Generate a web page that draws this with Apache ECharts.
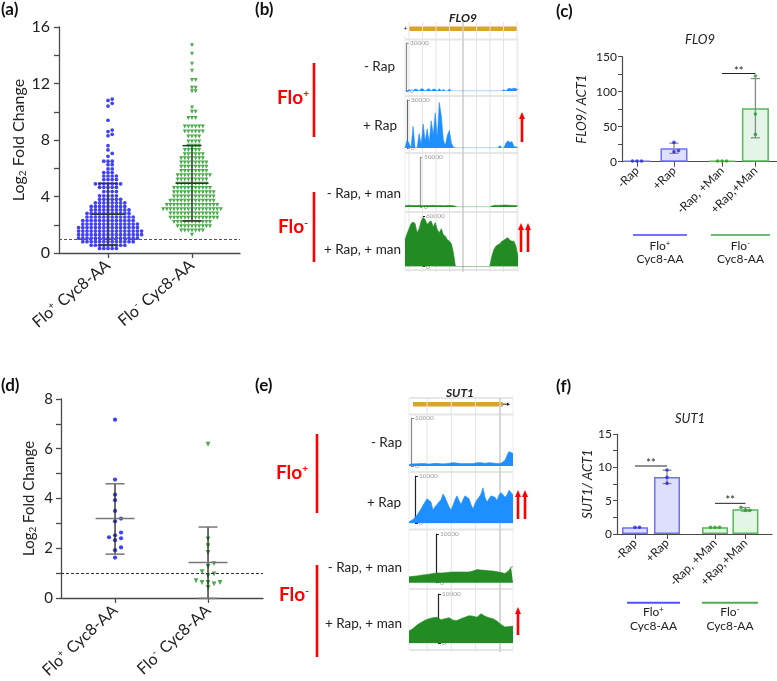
<!DOCTYPE html>
<html><head><meta charset="utf-8">
<script src="https://cdn.jsdelivr.net/npm/echarts@6.0.0/dist/echarts.min.js"></script>
<style>html,body{margin:0;padding:0;background:#fff}#c{width:777px;height:681px}</style>
</head><body><div id="c"></div>
<script>
// ================= DATA =================
const swarmGroups = ['Flo{sup|+} Cyc8-AA', 'Flo{sup|-} Cyc8-AA'];

// (a) genome-wide log2 fold change
const aFloPlus = [10.9,10.8,10.6,10.4,9.4,8.7,8.6,8.4,8.3,7.6,7.3,7.05,6.85,
 6.5,6.5,6.5,6.25,6.25,5.95,5.95,5.7,5.7,5.7,5.45,5.45,5.45,5.45,5.2,5.2,5.2,5.2,
 4.9,4.9,4.9,4.9,4.9,4.9,4.9,
 4.65,4.65,4.65,4.65,4.65,
 4.35,4.35,4.35,4.35,
 4.05,4.05,4.05,4.05,4.05,
 3.8,3.8,3.8,3.8,3.8,3.8,
 3.55,3.55,3.55,3.55,3.55,3.55,3.55,3.55,
 3.3,3.3,3.3,3.3,3.3,3.3,3.3,3.3,3.3,
 3.05,3.05,3.05,3.05,3.05,3.05,3.05,3.05,3.05,3.05,
 2.8,2.8,2.8,2.8,2.8,2.8,2.8,2.8,2.8,2.8,2.8,
 2.55,2.55,2.55,2.55,2.55,2.55,2.55,2.55,2.55,2.55,2.55,2.55,
 2.3,2.3,2.3,2.3,2.3,2.3,2.3,2.3,2.3,2.3,2.3,2.3,2.3,
 2.05,2.05,2.05,2.05,2.05,2.05,2.05,2.05,2.05,2.05,2.05,2.05,2.05,2.05,
 1.8,1.8,1.8,1.8,1.8,1.8,1.8,1.8,1.8,1.8,1.8,1.8,1.8,1.8,1.8,
 1.55,1.55,1.55,1.55,1.55,1.55,1.55,1.55,1.55,1.55,1.55,1.55,1.55,1.55,1.55,1.55,
 1.3,1.3,1.3,1.3,1.3,1.3,1.3,1.3,1.3,1.3,1.3,1.3,1.3,1.3,1.3,1.3,
 1.05,1.05,1.05,1.05,1.05,1.05,1.05,1.05,1.05,1.05,1.05,1.05,1.05,1.05,1.05,
 0.8,0.8,0.8,0.8,0.8,0.8,0.8,0.8,0.8,0.8,0.8,0.8,0.8,
 0.55,0.55,0.55,0.55,0.55,0.55,0.55,0.55,0.55,
 0.32,0.32,0.32,0.32,0.32];
const aFloMinus = [14.7,14.1,13.4,12.9,12.25,12.25,11.7,11.7,11.45,11.45,10.3,10.0,10.0,9.55,9.55,9.55,
 8.95,8.95,8.95,8.95,8.95,8.95,
 8.6,8.6,8.6,8.6,8.6,8.6,
 8.25,8.25,8.25,8.25,
 7.9,7.9,7.9,7.9,
 7.6,7.6,7.6,7.6,
 7.3,7.3,7.3,7.3,7.3,
 7.0,7.0,7.0,7.0,7.0,7.0,
 6.7,6.7,6.7,6.7,6.7,6.7,6.7,
 6.4,6.4,6.4,6.4,6.4,6.4,6.4,6.4,
 6.1,6.1,6.1,6.1,6.1,6.1,6.1,6.1,
 5.8,5.8,5.8,5.8,5.8,5.8,5.8,5.8,
 5.5,5.5,5.5,5.5,5.5,5.5,5.5,5.5,5.5,5.5,
 5.2,5.2,5.2,5.2,5.2,5.2,5.2,5.2,5.2,
 4.9,4.9,4.9,4.9,4.9,4.9,4.9,4.9,4.9,
 4.6,4.6,4.6,4.6,4.6,4.6,4.6,4.6,4.6,4.6,4.6,
 4.3,4.3,4.3,4.3,4.3,4.3,4.3,4.3,4.3,4.3,4.3,4.3,
 4.0,4.0,4.0,4.0,4.0,4.0,4.0,4.0,4.0,4.0,4.0,4.0,
 3.7,3.7,3.7,3.7,3.7,3.7,3.7,3.7,3.7,3.7,3.7,3.7,3.7,
 3.4,3.4,3.4,3.4,3.4,3.4,3.4,3.4,3.4,3.4,3.4,3.4,3.4,3.4,3.4,
 3.1,3.1,3.1,3.1,3.1,3.1,3.1,3.1,3.1,3.1,3.1,3.1,3.1,3.1,3.1,3.1,3.1,
 2.8,2.8,2.8,2.8,2.8,2.8,2.8,2.8,2.8,2.8,2.8,2.8,2.8,2.8,
 2.5,2.5,2.5,2.5,2.5,2.5,2.5,2.5,2.5,2.5,2.5,2.5,2.5,2.5,
 2.2,2.2,2.2,2.2,2.2,2.2,2.2,2.2,2.2,2.2,2.2,
 1.9,1.9,1.9,1.9,1.9,1.9,1.9,1.9,1.9,1.9,
 1.6,1.6,1.6,1.6,1.6,1.6,1.6,
 1.3];
const aMean = [2.75, 4.93];
const aSdLow = [0.57, 2.27];
const aSdHigh = [4.93, 7.6];

// (d) selected genes
const dFloPlus = [7.17,4.76,4.15,3.93,3.5,3.19,3.08,2.63,2.52,2.44,2.4,2.32,2.03,1.92,1.62];
const dFloMinus = [6.18,2.37,2.1,1.83,1.38,1.27,1.06,0.97,0.89,0.69,0.62,0.62,0.62,0.56,0.42];
const dMean = [3.19, 1.42];
const dSdLow = [1.76, -0.02];
const dSdHigh = [4.59, 2.85];
const thresholdLine = 1;

// (c),(f) qPCR
const qpcrLabels = ['-Rap', '+Rap', '-Rap, +Man', '+Rap,+Man'];
const flo9Reps = [[1.0,1.0,1.0],[27.6,15.7,14.3],[1.0,1.0,1.0],[122.4,68.0,39.0]];
const sut1Reps = [[1.0,1.0],[9.6,7.6,8.5],[1.0,1.0,1.0],[3.55,4.0,3.55]];
const flo9Sig = [[2, 3, 126]];           // [fromIdx, toIdx, y]
const sut1Sig = [[0, 1, 10.2], [2, 3, 4.6]];

// (b) FLO9 coverage tracks
const flo9Scales = [30000, 30000, 50000, 60000];
const flo9NoRap = [0,0,1000,0,0,1200,1000,0,1400,1200,0,1000,1400,0,1200,1000,0,1400,0,1000,0,0,1200,0,0,
 0,0,0,0,0,0,0,0,0,0,0,0,0,0,0,0,0,0,0,0,0,0,0,0,
 800,0,1400,1600,1200,1800,1400,1000];
const flo9Rap = [0,5000,3000,0,13500,0,0,9000,2000,15000,4000,12000,3000,17000,8000,22000,6000,28500,20000,5000,1500,8000,11000,3000,500,
 0,0,0,0,0,0,0,0,0,0,0,0,0,0,0,0,0,0,0,0,0,0,
 1500,0,0,3000,4500,3500,4000,900,600,600];
const flo9NoRapMan = [1200,1500,1800,1500,1600,1400,1500,1700,1500,1300,1500,1600,1400,1500,1700,1500,1400,1600,1500,1300,1500,1600,1400,1500,1200,800,
 0,0,0,0,0,0,0,0,0,0,0,0,0,0,0,0,0,
 900,1500,1700,1600,1800,1700,1900,2000,1800,1700,1600,1500,1400,1200];
const flo9RapMan = [31800,39000,45000,51000,52800,51000,40200,45000,54000,58200,55800,49800,52800,54000,46800,52200,43800,40200,45000,37800,36000,31800,30000,27000,16200,
 0,0,0,0,0,0,0,0,0,0,0,0,0,0,0,0,0,0,
 12000,19800,24000,25800,27000,30000,31200,33000,34200,31200,30000,30000,24000,12000];

// (e) SUT1 coverage tracks
const sut1Scales = [10000, 10000, 10000, 10000];
const sut1NoRap = [300,400,450,500,450,400,500,550,500,450,400,450,500,600,550,500,450,400,450,500,
 550,600,700,650,600,550,500,450,500,550,500,450,500,600,700,750,700,600,550,600,
 700,650,600,550,500,500,550,700,1200,2200,3000,2900,2600];
const sut1Rap = [300,500,800,1000,1700,2400,3000,3800,4200,5200,5600,4500,2800,3500,4000,4500,5000,6200,5500,4500,
 3500,2800,3800,5000,5800,4800,4000,5000,5800,6000,5200,4000,3000,4200,5000,5500,6200,7500,5500,4500,
 5200,5800,6200,5500,4800,6000,6500,6200,5500,6000,7000,6500,6000];
const sut1NoRapMan = [1200,1250,1300,1350,1400,1500,1550,1600,1650,1700,1750,1800,1900,2000,2000,2050,2000,2100,2050,2100,
 2150,2100,2200,2150,2200,2100,2200,2150,2200,2250,2200,2300,2400,2600,2700,2650,2600,2500,2550,2500,
 2450,2500,2400,2300,2250,2200,2100,2000,1900,1800,2500,3200,3300];
const sut1RapMan = [2500,3000,3700,4200,4700,5000,5200,5300,4800,5000,5200,4700,4600,5000,5300,5600,5500,5300,6000,5500,5200,5000,4500,3800,3300,3400,3500];

const trackLabels = ['- Rap', '+ Rap', '- Rap, + man', '+ Rap, + man'];

// ================= HELPERS =================
const FONT = 'Lato, "Open Sans", sans-serif';
const BLUE = '#1010f5', GREEN = '#1f951f';
const TRACK_BLUE = '#1e8fff', TRACK_GREEN = '#238b23';

function swarm(values, center, pxX, pxY, step, dyMin) {
  const order = values.map((v, i) => i).sort((p, q) => values[p] - values[q]);
  const placed = [], out = [];
  order.forEach(i => {
    const v = values[i], y = v * pxY;
    for (let k = 0; k < 400; k++) {
      const slot = k === 0 ? 0 : (k % 2 ? (k + 1) / 2 : -k / 2);
      if (placed.every(p => p.slot !== slot || Math.abs(p.y - y) >= dyMin)) {
        placed.push({slot, y}); out.push([center + slot * step / pxX, v]); break;
      }
    }
  });
  return out;
}
const mean = a => a.reduce((s, v) => s + v, 0) / a.length;
const sd = a => { const m = mean(a); return a.length < 2 ? 0 : Math.sqrt(a.reduce((s, v) => s + (v - m) * (v - m), 0) / (a.length - 1)); };

function meanSdSeries(ai, data, meanW, capW, vColor, hColor) {
  return {type: 'custom', xAxisIndex: ai, yAxisIndex: ai, z: 6, silent: true, data,
    renderItem(params, api) {
      const x = api.value(0), m = api.value(1), lo = api.value(2), hi = api.value(3);
      const pm = api.coord([x, m]), pl = api.coord([x, lo]), ph = api.coord([x, hi]);
      const sv = {stroke: vColor, lineWidth: 1.3}, sh = {stroke: hColor, lineWidth: 1.5};
      return {type: 'group', children: [
        {type: 'line', shape: {x1: pm[0], y1: pl[1], x2: pm[0], y2: ph[1]}, style: sv},
        {type: 'line', shape: {x1: pm[0] - meanW / 2, y1: pm[1], x2: pm[0] + meanW / 2, y2: pm[1]}, style: sh},
        {type: 'line', shape: {x1: pm[0] - capW / 2, y1: pl[1], x2: pm[0] + capW / 2, y2: pl[1]}, style: sh},
        {type: 'line', shape: {x1: pm[0] - capW / 2, y1: ph[1], x2: pm[0] + capW / 2, y2: ph[1]}, style: sh}
      ]};
    }};
}
function errSeries(ai, data, capW) {
  return {type: 'custom', xAxisIndex: ai, yAxisIndex: ai, z: 4, silent: true, data,
    renderItem(params, api) {
      const x = api.value(0), lo = api.value(1), hi = api.value(2);
      if (hi - lo <= 0) return null;
      const pl = api.coord([x, lo]), ph = api.coord([x, hi]);
      const s = {stroke: '#8a8a8a', lineWidth: 1.3};
      return {type: 'group', children: [
        {type: 'line', shape: {x1: pl[0], y1: pl[1], x2: ph[0], y2: ph[1]}, style: s},
        {type: 'line', shape: {x1: pl[0] - capW / 2, y1: pl[1], x2: pl[0] + capW / 2, y2: pl[1]}, style: s},
        {type: 'line', shape: {x1: ph[0] - capW / 2, y1: ph[1], x2: ph[0] + capW / 2, y2: ph[1]}, style: s}
      ]};
    }};
}
function sigSeries(ai, data) {
  return {type: 'custom', xAxisIndex: ai, yAxisIndex: ai, z: 6, silent: true, data,
    renderItem(params, api) {
      const p1 = api.coord([api.value(0), api.value(2)]), p2 = api.coord([api.value(1), api.value(2)]);
      return {type: 'group', children: [
        {type: 'line', shape: {x1: p1[0], y1: p1[1], x2: p2[0], y2: p2[1]}, style: {stroke: '#222', lineWidth: 1}},
        {type: 'text', x: (p1[0] + p2[0]) / 2, y: p1[1] + 3, style: {text: '**', align: 'center', verticalAlign: 'bottom', font: '11px ' + FONT, fill: '#222'}}
      ]};
    }};
}
function gridLineSeries(ai, fracs, strongIdx) {
  return {type: 'custom', xAxisIndex: ai, yAxisIndex: ai, z: 1, silent: true,
    data: fracs.map((f, k) => [f, k]),
    renderItem(params, api) {
      const cs = params.coordSys;
      const x = api.coord([api.value(0), 0])[0];
      const strong = api.value(1) === strongIdx;
      return {type: 'line', shape: {x1: x, y1: cs.y, x2: x, y2: cs.y + cs.height},
        style: {stroke: strong ? '#cfcfcf' : '#e4e4e4', lineWidth: strong ? 1.6 : 1}};
    }};
}
function trackSeries(ai, arr, color) {
  return {type: 'line', xAxisIndex: ai, yAxisIndex: ai, z: 3, silent: true,
    data: arr.map((v, i) => [i / (arr.length - 1), v]), symbol: 'none',
    lineStyle: {width: 0.6, color}, itemStyle: {color}, areaStyle: {color, opacity: 1}};
}

// ================= LAYOUT =================
const grids = [], xAxes = [], yAxes = [], series = [];
const axisCol = '#4a4a4a';
function addGrid(g) { grids.push(g); return grids.length - 1; }

const supRich = {sup: {fontSize: 10, fontFamily: FONT, color: '#222', verticalAlign: 'top', padding: [0, 1, 8, 0]}};
const subRich = {sub: {fontSize: 10, fontFamily: FONT, color: '#222', padding: [7, 0, 0, 0]}};
function scatterAxes(gi, xr, yr, yInt, labSize, yMargin, nameSize, nameGap, rot) {
  xAxes.push({gridIndex: gi, type: 'value', min: xr[0], max: xr[1],
    axisLine: {lineStyle: {color: axisCol, width: 1.3}},
    axisTick: {show: true, customValues: [1, 2], length: 5, lineStyle: {color: axisCol, width: 1.3}},
    axisLabel: {customValues: [1, 2], rotate: rot, margin: 10, fontSize: 16, fontFamily: FONT, color: '#222',
      formatter: v => swarmGroups[Math.round(v) - 1], rich: supRich},
    splitLine: {show: false}});
  yAxes.push({gridIndex: gi, type: 'value', min: yr[0], max: yr[1], interval: yInt,
    axisLine: {show: true, lineStyle: {color: axisCol, width: 1.3}},
    axisTick: {show: true, length: 5, lineStyle: {color: axisCol, width: 1.3}},
    minorTick: {show: true, splitNumber: 2, length: 5, lineStyle: {color: axisCol, width: 1.3}},
    axisLabel: {fontSize: labSize, fontFamily: FONT, color: '#222', margin: yMargin},
    splitLine: {show: false},
    name: 'Log{sub|2} Fold Change', nameLocation: 'middle', nameGap, nameRotate: 90,
    nameTextStyle: {fontSize: nameSize, fontFamily: FONT, color: '#222', rich: subRich}});
}

// ---- (a)
const aGrid = {left: 59, top: 27, width: 181, height: 226};
const aX = [0.4167, 2.5714], aY = [0, 16];
const ia = addGrid(aGrid);
scatterAxes(ia, aX, aY, 4, 16, 9, 16, 31, 40);
const aPxX = aGrid.width / (aX[1] - aX[0]), aPxY = aGrid.height / (aY[1] - aY[0]);
series.push({type: 'scatter', xAxisIndex: ia, yAxisIndex: ia, z: 3, silent: true, symbol: 'circle', symbolSize: 3.7,
  itemStyle: {color: BLUE}, data: swarm(aFloPlus, 1, aPxX, aPxY, 4.2, 3),
  markLine: {silent: true, symbol: ['none', 'none'], label: {show: false}, animation: false,
    lineStyle: {color: '#555', type: [3, 2], width: 1}, data: [{yAxis: thresholdLine}]}});
series.push({type: 'scatter', xAxisIndex: ia, yAxisIndex: ia, z: 3, silent: true, symbol: 'triangle', symbolRotate: 180, symbolSize: 4,
  itemStyle: {color: GREEN}, data: swarm(aFloMinus, 2, aPxX, aPxY, 3.6, 3)});
series.push(meanSdSeries(ia, aMean.map((m, i) => [i + 1, m, aSdLow[i], aSdHigh[i]]), 33, 19, '#333', '#333'));

// ---- (d)
const dGrid = {left: 61, top: 399, width: 202, height: 201.7};
const dX = [0.419, 2.591], dY = [0, 8];
const id = addGrid(dGrid);
scatterAxes(id, dX, dY, 2, 15, 8, 15, 23, 43);
const dPxX = dGrid.width / (dX[1] - dX[0]), dPxY = dGrid.height / (dY[1] - dY[0]);
series.push({type: 'scatter', xAxisIndex: id, yAxisIndex: id, z: 3, silent: true, symbol: 'circle', symbolSize: 4.2,
  itemStyle: {color: BLUE}, data: swarm(dFloPlus, 1, dPxX, dPxY, 6, 5),
  markLine: {silent: true, symbol: ['none', 'none'], label: {show: false}, animation: false,
    lineStyle: {color: '#333', type: [3, 2], width: 1}, data: [{yAxis: thresholdLine}]}});
series.push({type: 'scatter', xAxisIndex: id, yAxisIndex: id, z: 3, silent: true, symbol: 'triangle', symbolRotate: 180, symbolSize: 4.8,
  itemStyle: {color: GREEN}, data: swarm(dFloMinus, 2, dPxX, dPxY, 6, 5)});
series.push(meanSdSeries(id, dMean.map((m, i) => [i + 1, m, dSdLow[i], dSdHigh[i]]), 39, 19, '#222', '#777'));

// ---- (c) and (f) bar charts
function barPanel(grid, xr, pos, yr, yInt, reps, sig, yName, nameGap, barW) {
  const gi = addGrid(grid);
  xAxes.push({gridIndex: gi, type: 'value', min: xr[0], max: xr[1],
    axisLine: {lineStyle: {color: axisCol, width: 1.2}},
    axisTick: {show: true, customValues: pos, length: 5, lineStyle: {color: axisCol}},
    axisLabel: {customValues: pos, rotate: 45, margin: 7, fontSize: 12, fontFamily: FONT, color: '#222',
      formatter: v => qpcrLabels[pos.indexOf(v)]},
    splitLine: {show: false}});
  yAxes.push({gridIndex: gi, type: 'value', min: yr[0], max: yr[1], interval: yInt,
    axisLine: {show: true, lineStyle: {color: axisCol, width: 1.2}},
    axisTick: {show: true, length: 4, lineStyle: {color: axisCol}},
    minorTick: {show: true, splitNumber: 2, length: 4, lineStyle: {color: axisCol}},
    axisLabel: {fontSize: 12, fontFamily: FONT, color: '#222', margin: 5},
    splitLine: {show: false},
    name: yName, nameLocation: 'middle', nameGap, nameRotate: 90,
    nameTextStyle: {fontSize: 13, fontStyle: 'italic', fontFamily: FONT, color: '#222'}});
  const pxX = grid.width / (xr[1] - xr[0]), pxY = grid.height / (yr[1] - yr[0]);
  const isBlue = i => i < 2;
  series.push({type: 'bar', xAxisIndex: gi, yAxisIndex: gi, z: 2, silent: true, barWidth: barW,
    data: reps.map((r, i) => ({value: [pos[i], mean(r)], itemStyle: isBlue(i)
      ? {color: '#dedefd', borderColor: '#7070ff', borderWidth: 1.5}
      : {color: '#e2f5e7', borderColor: '#58b658', borderWidth: 1.5}}))});
  series.push(errSeries(gi, reps.map((r, i) => [pos[i], mean(r) - sd(r), mean(r) + sd(r)]), 9));
  reps.forEach((r, i) => series.push({type: 'scatter', xAxisIndex: gi, yAxisIndex: gi, z: 5, silent: true,
    symbol: 'circle', symbolSize: 3.6, itemStyle: {color: isBlue(i) ? '#2323f0' : '#2a9a2a'},
    data: swarm(r, pos[i], pxX, pxY, 4.5, 4)}));
  series.push(sigSeries(gi, sig.map(s => [pos[s[0]], pos[s[1]], s[2]])));
}
barPanel({left: 622, top: 56.7, width: 155, height: 105}, [0.595, 4.784], [1, 2, 3.3, 4.2], [0, 150], 50,
  flo9Reps, flo9Sig, 'FLO9/ ACT1', 34, 27);
barPanel({left: 617, top: 434, width: 155, height: 100}, [0.4375, 5.28], [1, 2, 3.5, 4.45], [0, 15], 5,
  sut1Reps, sut1Sig, 'SUT1/ ACT1', 15, 26);

// ---- (b),(e) coverage tracks
function trackPanel(left, width, boxes, bracketX, bracketCol, scales, arrays, colors) {
  boxes.forEach((b, k) => {
    const gi = addGrid({left, width, top: b[0], height: b[1] - b[0]});
    xAxes.push({gridIndex: gi, type: 'value', min: 0, max: 1, show: false});
    yAxes.push({gridIndex: gi, type: 'value', min: 0, max: scales[k], interval: scales[k],
      offset: -(bracketX[k] - left),
      axisLine: {show: true, lineStyle: {color: bracketCol[k], width: 1.2}},
      axisTick: {show: true, inside: true, length: 3, lineStyle: {color: bracketCol[k]}},
      axisLabel: {show: true, inside: true, margin: 4, fontSize: 6.5, color: '#999', fontFamily: FONT, formatter: v => String(v)},
      splitLine: {show: false}});
    series.push(trackSeries(gi, arrays[k], colors[k]));
  });
}
function framePanel(left, width, top, height, fracs, strongIdx) {
  const gi = addGrid({left, width, top, height});
  xAxes.push({gridIndex: gi, type: 'value', min: 0, max: 1, show: false});
  yAxes.push({gridIndex: gi, type: 'value', min: 0, max: 1, show: false});
  series.push(gridLineSeries(gi, fracs, strongIdx));
}
// FLO9 region: panel 405..518 px, gene grid every 13.5 px from 409
const bLeft = 405, bWidth = 113;
framePanel(bLeft, bWidth, 22, 250, [0, 1, 2, 3, 4, 5, 6, 7, 8].map(k => (4 + 13.5 * k) / bWidth), 4);
trackPanel(bLeft, bWidth, [[43, 91], [100, 148], [157, 207], [216, 266.5]], [406, 407, 420, 422],
  ['#888', '#666', '#999', '#111'], flo9Scales, [flo9NoRap, flo9Rap, flo9NoRapMan, flo9RapMan],
  [TRACK_BLUE, TRACK_BLUE, TRACK_GREEN, TRACK_GREEN]);
// SUT1 region: panel 409..513 px
const eLeft = 409, eWidth = 104;
framePanel(eLeft, eWidth, 398, 254, [18, 42.3, 66.6, 91].map(v => v / eWidth), 3);
trackPanel(eLeft, eWidth, [[418, 466], [476, 523.3], [534, 582.7], [594, 643.3]], [411, 415, 436, 438],
  ['#888', '#222', '#222', '#222'], sut1Scales, [sut1NoRap, sut1Rap, sut1NoRapMan, sut1RapMan],
  [TRACK_BLUE, TRACK_BLUE, TRACK_GREEN, TRACK_GREEN]);

// ================= GRAPHIC ANNOTATIONS =================
const G = [];
function txt(text, x, y, font, opts) {
  G.push({type: 'text', x, y, silent: true, style: Object.assign({text, font, fill: '#222', align: 'left', verticalAlign: 'top'}, opts || {})});
}
function hline(x1, x2, y, stroke, w) { G.push({type: 'line', silent: true, shape: {x1, y1: y, x2, y2: y}, style: {stroke, lineWidth: w}}); }
function vline(x, y1, y2, stroke, w) { G.push({type: 'line', silent: true, shape: {x1: x, y1, x2: x, y2}, style: {stroke, lineWidth: w}}); }
function arrow(x, yTop, yBot) {
  vline(x, yTop + 6, yBot, '#ff0000', 2.6);
  G.push({type: 'polygon', silent: true, shape: {points: [[x - 3, yTop + 7], [x + 3, yTop + 7], [x, yTop]]}, style: {fill: '#ff0000'}});
}
// panel letters
[['(a)', 1, 1], ['(b)', 255, 1], ['(c)', 556, 3], ['(d)', 1, 377], ['(e)', 255, 377], ['(f)', 556, 378]]
  .forEach(p => txt(p[0], p[1], p[2], 'bold 17px ' + FONT, {fill: '#111'}));

// track separators / frames
[39.5, 96, 153, 212, 270].forEach(y => hline(bLeft, bLeft + bWidth, y, '#e6e6e6', 2));
vline(bLeft, 36, 270, '#ececec', 1); vline(bLeft + bWidth, 36, 270, '#ececec', 1);
[398, 414.5, 472, 529.5, 589, 650].forEach(y => hline(eLeft, eLeft + eWidth, y, '#e6e6e6', 2));
vline(eLeft, 398, 650, '#ececec', 1); vline(eLeft + eWidth, 398, 650, '#ececec', 1);

// gene models
G.push({type: 'rect', silent: true, shape: {x: 409, y: 26.5, width: 108, height: 4.5}, style: {fill: '#dba521'}});
txt('+', 405.5, 28.5, '7px ' + FONT, {align: 'center', verticalAlign: 'middle'});
txt('FLO9', 463, 18, 'italic bold 12px ' + FONT, {align: 'center', verticalAlign: 'middle'});
G.push({type: 'rect', silent: true, shape: {x: 413, y: 402, width: 90, height: 4.5}, style: {fill: '#dba521'}});
hline(503, 508, 404.2, '#222', 1);
G.push({type: 'polygon', silent: true, shape: {points: [[507, 402.5], [510, 404.2], [507, 406]]}, style: {fill: '#222'}});
txt('SUT1', 460, 393, 'italic bold 12px ' + FONT, {align: 'center', verticalAlign: 'middle'});

// track row labels
const bRows = [67, 126, 194, 250], eRows = [443, 503, 568, 624];
const bRight = [395, 397, 401, 401], eRight = [402, 401, 402, 402];
trackLabels.forEach((t, i) => {
  txt(t, bRight[i], bRows[i], '13.5px ' + FONT, {align: 'right', verticalAlign: 'middle'});
  txt(t, eRight[i], eRows[i], '13.5px ' + FONT, {align: 'right', verticalAlign: 'middle'});
});
// strain labels (red)
const redRich = {s: {font: 'bold 10px ' + FONT, fill: '#ff0000', padding: [0, 0, 8, 0]}};
function floLabel(sign, x, y) {
  txt('Flo{s|' + sign + '}', x, y, 'bold 19px ' + FONT, {fill: '#ff0000', align: 'left', verticalAlign: 'middle', rich: redRich});
}
floLabel('+', 277, 98); floLabel('-', 278, 227);
floLabel('+', 276, 473); floLabel('-', 279, 595);
vline(314, 63, 137, '#ff0000', 2.6); vline(314, 192, 262, '#ff0000', 2.6);
vline(317, 434, 513, '#ff0000', 2.6); vline(317, 565, 657, '#ff0000', 2.6);
arrow(522, 112, 142); arrow(521, 223, 252); arrow(528, 223, 252);
arrow(518, 490, 519); arrow(525, 490, 519); arrow(518, 607, 635);

// qPCR titles & group annotations
txt('FLO9', 700, 40, 'italic 13px ' + FONT, {align: 'center', verticalAlign: 'middle'});
txt('SUT1', 690, 419, 'italic 13px ' + FONT, {align: 'center', verticalAlign: 'middle'});
const grpRich = {s: {font: '8px ' + FONT, fill: '#222', padding: [0, 0, 6, 0]}};
function group(x1, x2, yLine, y1, y2, color, sign) {
  hline(x1, x2, yLine, color, 2);
  txt('Flo{s|' + sign + '}', (x1 + x2) / 2, y1, '12px ' + FONT, {align: 'center', verticalAlign: 'middle', rich: grpRich});
  txt('Cyc8-AA', (x1 + x2) / 2, y2, '12px ' + FONT, {align: 'center', verticalAlign: 'middle'});
}
group(633, 687, 235, 246, 259, '#7272ff', '+');
group(711, 770, 235, 246, 259, '#6cbf6c', '-');
group(627, 680, 602.7, 612.5, 626, '#5151ff', '+');
group(702, 758, 602.7, 612.5, 626, '#4fae4f', '-');

// ================= RENDER =================
const chart = echarts.init(document.getElementById('c'), null, {renderer: 'canvas'});
chart.setOption({
  animation: false,
  backgroundColor: '#ffffff',
  textStyle: {fontFamily: FONT},
  grid: grids.map(g => Object.assign({containLabel: false}, g)),
  xAxis: xAxes, yAxis: yAxes, series,
  graphic: {elements: G}
});
</script></body></html>
